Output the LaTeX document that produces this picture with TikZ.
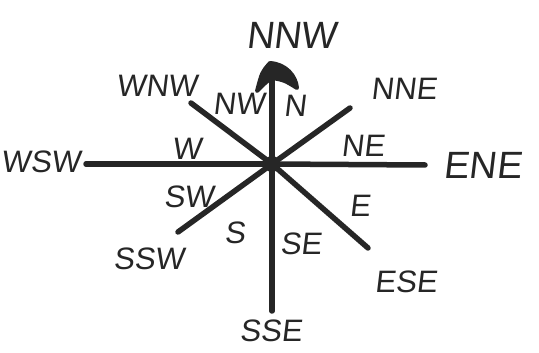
\documentclass[tikz,border=0pt]{standalone}
\usepackage{fontspec}
\setmainfont{Liberation Sans}
\begin{document}
\begin{tikzpicture}[x=1pt,y=-1pt,
  ray/.style={line width=5.5pt,line cap=round,black!85},
  lbl/.style={font=\fontsize{31}{31}\selectfont,text=black!85,inner sep=0pt,xslant=0.12},
  biglbl/.style={font=\fontsize{38}{38}\selectfont,text=black!85,inner sep=0pt,xslant=0.12}]
\useasboundingbox (0,0) rectangle (539,353);
\coordinate (c) at (272,164);
\coordinate (top) at (272,66);
\coordinate (bot) at (272,311);
\coordinate (left) at (86,164);
\coordinate (right) at (425,165);
\coordinate (nw) at (191,103);
\coordinate (se) at (368,248);
\coordinate (ne) at (350,108);
\coordinate (sw) at (178,232);
\draw[ray] (c) -- (top);
\draw[ray] (c) -- (bot);
\draw[ray] (c) -- (left);
\draw[ray] (c) -- (right);
\draw[ray] (c) -- (nw);
\draw[ray] (c) -- (se);
\draw[ray] (c) -- (ne);
\draw[ray] (c) -- (sw);
\fill[black!85] (c) circle (8);
% arrowhead
\filldraw[black!85,line width=4pt,line join=round]
  ([shift={(-15,25)}]top) .. controls ([shift={(-10,6)}]top) .. ([shift={(-2,-3)}]top)
  .. controls ([shift={(14,-2)}]top) and ([shift={(24,10)}]top) .. ([shift={(25,22)}]top)
  .. controls ([shift={(12,14)}]top) .. ([shift={(0,12)}]top)
  .. controls ([shift={(-6,16)}]top) .. cycle;
% labels
\node[biglbl] (lnnw) at (293,35) {NNW};
\node[lbl] (lwnw) at (158,86) {WNW};
\node[lbl] (lnne) at (405,89) {NNE};
\node[lbl] (lnw) at (240,104) {NW};
\node[lbl] (ln) at (296,106) {N};
\node[lbl] (lne) at (364,146) {NE};
\node[lbl] (lw) at (188,149) {W};
\node[lbl] (lwsw) at (42,162) {WSW};
\node[biglbl] (lene) at (484,165) {ENE};
\node[lbl] (lsw) at (190,197) {SW};
\node[lbl] (le) at (361,206) {E};
\node[lbl] (ls) at (236,233) {S};
\node[lbl] (lse) at (302,244) {SE};
\node[lbl] (lssw) at (150,259) {SSW};
\node[lbl] (lese) at (407,282) {ESE};
\node[lbl] (lsse) at (272,331) {SSE};
\end{tikzpicture}
\end{document}
